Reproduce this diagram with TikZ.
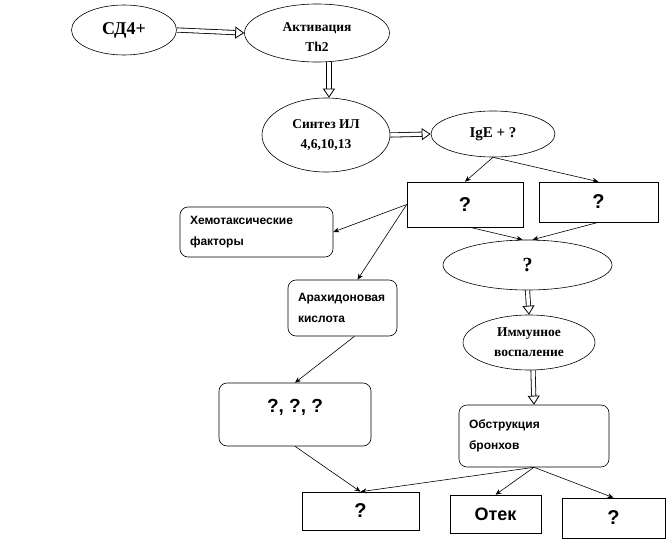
\documentclass[tikz,border=0pt]{standalone}
\usepackage{fontspec}
\setmainfont{Liberation Serif}
\setsansfont{Liberation Sans}
\usetikzlibrary{arrows.meta,positioning,shapes,shadows,calc}

\begin{document}
\begin{tikzpicture}[
  x=1pt, y=-1pt,
  oval/.style={draw, semithick, ellipse, inner sep=1pt, align=center, font=\bfseries\fontsize{13.5}{20}\selectfont},
  sbox/.style={draw, semithick, rectangle, inner sep=0pt, fill=white, font=\sffamily\bfseries\fontsize{20}{22}\selectfont,
    drop shadow={shadow xshift=1.2pt, shadow yshift=-1.2pt, fill=black!50}},
  rbox/.style={draw, semithick, rounded corners=8pt, inner xsep=10pt, align=left, font=\sffamily\bfseries\fontsize{12}{21}\selectfont},
  hollow/.style={draw, line width=0.8pt, double, double distance=3.5pt, -{Triangle[open, width=12pt, length=9pt]}},
  link/.style={draw, semithick, -{Stealth[length=6pt, width=5pt]}},
]
\useasboundingbox (0,0) rectangle (670,543);

% Top chain — cells and interleukins
\node[oval, minimum width=105, minimum height=50, font=\bfseries\fontsize{18}{20}\selectfont] (cd4) at (124,30) {СД4+};
\node[oval, minimum width=145, minimum height=58, text height=38pt] (th2) at (317,33) {Активация\\Th2};
\node[oval, minimum width=128, minimum height=74] (il) at (326,135) {Синтез ИЛ\\4,6,10,13};
\node[oval, minimum width=124, minimum height=46, font=\bfseries\fontsize{15}{20}\selectfont] (ige) at (493,134) {IgE + ?};

% Mediators
\node[sbox, minimum width=116, minimum height=45] (q1) at (465,204.5) {?};
\node[sbox, minimum width=119, minimum height=40] (q2) at (598.5,202) {?};
\node[rbox, minimum width=153, minimum height=50, text width=133] (chemo) at (256.5,232) {Хемотаксические\\факторы};
\node[rbox, minimum width=109, minimum height=56, text width=89] (arach) at (342.5,308) {Арахидоновая\\кислота};
\node[rbox, minimum width=152, minimum height=63, align=center, text depth=17pt, font=\sffamily\bfseries\fontsize{19}{22}\selectfont] (qqq) at (295,414.5) {?, ?, ?};

% Right branch — inflammation
\node[oval, minimum width=169, minimum height=50, font=\bfseries\fontsize{20}{22}\selectfont] (qe) at (527.5,265) {?};
\node[oval, minimum width=132, minimum height=55] (imm) at (529,342.5) {Иммунное\\воспаление};
\node[rbox, minimum width=150, minimum height=62, text width=130] (obst) at (534,436) {Обструкция\\бронхов};

% Outcomes
\node[sbox, minimum width=117, minimum height=38] (qb) at (360.5,511) {?};
\node[sbox, minimum width=91, minimum height=38, font=\sffamily\bfseries\fontsize{18}{20}\selectfont] (otek) at (495.5,514) {Отек};
\node[sbox, minimum width=103, minimum height=40] (qr) at (613.5,518) {?};

% Hollow arrows
\draw[hollow] (cd4.east) -- (th2.west);
\draw[hollow] ([xshift=12pt]th2.south) -- ([xshift=3pt]il.north);
\draw[hollow] (il.east) -- (ige.west);
\draw[hollow] (qe.south) -- (imm.north);
\draw[hollow] ([xshift=4pt]imm.south) -- (obst.north);

% Thin arrows
\draw[link] (ige.south) -- (q1.north);
\draw[link] (ige.south) -- (q2.north);
\draw[link] (q1.west) -- (chemo.east);
\draw[link] (q1.west) -- ([xshift=15pt]arach.north);
\draw[link] ([xshift=5pt]q1.south) -- ([xshift=-5pt]qe.north);
\draw[link] (q2.south) -- ([xshift=5pt]qe.north);
\draw[link] ([xshift=12pt]arach.south) -- (qqq.north);
\draw[link] (qqq.south) -- (qb.north);
\draw[link] (obst.south) -- (qb.north);
\draw[link] (obst.south) -- (otek.north);
\draw[link] (obst.south) -- (qr.north);

\end{tikzpicture}
\end{document}
